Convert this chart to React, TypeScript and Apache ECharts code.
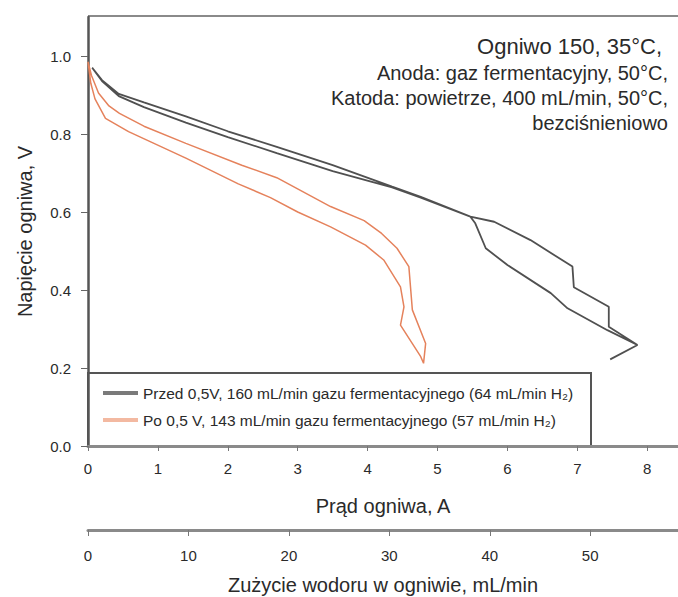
import React, { useEffect, useRef } from "react";
import * as echarts from "echarts";

const FONT = "'Liberation Sans', Arial, Helvetica, sans-serif";

// Axis ranges / ticks
const X_MAX = 8.44; // cell current, A
const H2_PER_A = 6.96; // mL/min of H2 per A (single cell)
const Y_MAX = 1.1;
const xTicks = [0, 1, 2, 3, 4, 5, 6, 7, 8];
const x2Ticks = [0, 10, 20, 30, 40, 50];
const yTicks = [0, 0.2, 0.4, 0.6, 0.8, 1.0];

// Series names
const seriesNames = [
  "Przed 0,5V, 160 mL/min gazu fermentacyjnego (64 mL/min H₂)",
  "Po 0,5 V, 143 mL/min gazu fermentacyjnego (57 mL/min H₂)",
];

// "Przed" (grey) polarization loop: current [A], voltage [V], in drawing order
const greyCurrent = [
  7.47, 7.86, 7.43, 6.86, 6.62, 6.0, 5.69, 5.54, 5.47, 4.76, 4.35, 3.5, 2.7, 2.0,
  1.4, 0.8, 0.44, 0.2, 0.06, 0.2, 0.44, 0.8, 1.4, 2.0, 2.7, 3.5, 4.35, 4.76, 5.47,
  5.81, 6.33, 6.93, 6.95, 7.45, 7.45, 7.86,
];
const greyVoltage = [
  0.222, 0.259, 0.297, 0.353, 0.392, 0.464, 0.507, 0.571, 0.588, 0.637, 0.663,
  0.705, 0.751, 0.792, 0.829, 0.869, 0.897, 0.936, 0.97, 0.938, 0.903, 0.881, 0.845,
  0.807, 0.767, 0.72, 0.665, 0.639, 0.588, 0.575, 0.528, 0.46, 0.407, 0.357,
  0.306, 0.259,
];

// "Po" (orange) polarization loop: current [A], voltage [V], in drawing order
const orangeCurrent = [
  0, 0.05, 0.15, 0.3, 0.45, 0.8, 1.4, 2.2, 2.7, 3.47, 3.95, 4.2, 4.42, 4.59, 4.64,
  4.83, 4.8, 4.76, 4.47, 4.52, 4.47, 4.23, 3.97, 3.47, 3.0, 2.61, 2.15, 1.4, 0.58,
  0.25, 0.1, 0.04, 0,
];
const orangeVoltage = [
  0.985, 0.95, 0.905, 0.872, 0.853, 0.82, 0.776, 0.72, 0.688, 0.614, 0.578, 0.545,
  0.507, 0.46, 0.349, 0.263, 0.212, 0.229, 0.31, 0.357, 0.408, 0.477, 0.515,
  0.562, 0.6, 0.637, 0.672, 0.738, 0.806, 0.84, 0.89, 0.93, 0.985,
];

// Annotation lines
const noteLines = [
  "Ogniwo 150, 35°C,",
  "Anoda: gaz fermentacyjny, 50°C,",
  "Katoda: powietrze, 400 mL/min, 50°C,",
  "bezciśnieniowo",
];

const xTitle = "Prąd ogniwa, A";
const x2Title = "Zużycie wodoru w ogniwie, mL/min";
const yTitle = "Napięcie ogniwa, V";

const zip = (a: number[], b: number[]) => a.map((v, i) => [v, b[i]]);

export default function App() {
  const ref = useRef<HTMLDivElement>(null);

  useEffect(() => {
    if (!ref.current) return;
    const chart = echarts.init(ref.current, undefined, { renderer: "svg" });

    const labelBase = { fontFamily: FONT, color: "#2a2a2a", fontSize: 15 };

    const option: any = {
      animation: false,
      grid: { left: 88, right: 0, top: 17, bottom: 151, containLabel: false, outerBoundsMode: "none" },
      xAxis: [
        {
          type: "value",
          min: 0,
          max: X_MAX,
          position: "bottom",
          axisLine: { show: true, onZero: false, lineStyle: { color: "#8a8a8a", width: 3 } },
          axisTick: { show: true, length: 5, customValues: xTicks, lineStyle: { color: "#777", width: 1 } },
          axisLabel: {
            ...labelBase,
            margin: 15,
            customValues: xTicks,
            formatter: (v: number) => (Math.abs(v - Math.round(v)) < 1e-6 ? String(Math.round(v)) : ""),
          },
          splitLine: { show: false },
          name: xTitle,
          nameLocation: "middle",
          nameGap: 50,
          nameTextStyle: { fontFamily: FONT, fontSize: 20, color: "#2a2a2a" },
        },
        {
          type: "value",
          min: 0,
          max: X_MAX * H2_PER_A,
          position: "bottom",
          offset: 84,
          axisLine: { show: true, onZero: false, lineStyle: { color: "#8a8a8a", width: 3 } },
          axisTick: { show: true, length: 6, customValues: x2Ticks, lineStyle: { color: "#777", width: 1 } },
          axisLabel: {
            ...labelBase,
            margin: 18,
            customValues: x2Ticks,
            formatter: (v: number) => (Math.abs(v / 10 - Math.round(v / 10)) < 1e-6 ? String(Math.round(v)) : ""),
          },
          splitLine: { show: false },
          name: x2Title,
          nameLocation: "middle",
          nameGap: 45,
          nameTextStyle: { fontFamily: FONT, fontSize: 20, color: "#2a2a2a" },
        },
      ],
      yAxis: {
        type: "value",
        min: 0,
        max: Y_MAX,
        axisLine: { show: true, lineStyle: { color: "#555", width: 2.5 } },
        axisTick: { show: true, length: 7, customValues: yTicks, lineStyle: { color: "#666", width: 1 } },
        axisLabel: {
          ...labelBase,
          margin: 17,
          customValues: yTicks,
          formatter: (v: number) => (Math.abs(v * 5 - Math.round(v * 5)) < 1e-6 ? v.toFixed(1) : ""),
        },
        splitLine: { show: false },
        name: yTitle,
        nameLocation: "middle",
        nameGap: 53,
        nameTextStyle: { fontFamily: FONT, fontSize: 20, color: "#2a2a2a" },
      },
      legend: {
        orient: "vertical",
        left: 98,
        top: 379,
        itemWidth: 35,
        itemHeight: 4,
        itemGap: 9,
        selectedMode: false,
        textStyle: { fontFamily: FONT, fontSize: 15.5, color: "#2a2a2a", lineHeight: 18 },
        data: [
          { name: seriesNames[0], icon: "rect", itemStyle: { color: "#7a7a7a" } },
          { name: seriesNames[1], icon: "rect", itemStyle: { color: "#f3b9a1" } },
        ],
      },
      graphic: [
        {
          type: "line",
          shape: { x1: 88, y1: 16, x2: 678, y2: 16 },
          style: { stroke: "#8a8a8a", lineWidth: 2 },
        },
        {
          type: "rect",
          shape: { x: 88, y: 373, width: 503, height: 73 },
          style: { fill: "none", stroke: "#555", lineWidth: 2 },
        },
        {
          type: "text",
          x: 662,
          y: 46,
          style: { text: noteLines[0], align: "right", verticalAlign: "middle", fontFamily: FONT, fontSize: 22, fill: "#2a2a2a" },
        },
        ...noteLines.slice(1).map((t, i) => ({
          type: "text",
          x: 668,
          y: 73 + i * 25,
          style: { text: t, align: "right", verticalAlign: "middle", fontFamily: FONT, fontSize: 20, fill: "#2a2a2a" },
        })),
      ],
      series: [
        {
          type: "line",
          name: seriesNames[0],
          data: zip(greyCurrent, greyVoltage),
          symbol: "none",
          smooth: false,
          lineStyle: { color: "#505050", width: 1.8 },
          itemStyle: { color: "#505050" },
        },
        {
          type: "line",
          name: seriesNames[1],
          data: zip(orangeCurrent, orangeVoltage),
          symbol: "none",
          smooth: false,
          lineStyle: { color: "#e5825c", width: 1.5 },
          itemStyle: { color: "#e5825c" },
        },
      ],
    };

    chart.setOption(option);
    return () => chart.dispose();
  }, []);

  return (
    <div
      ref={ref}
      style={{ position: "fixed", left: 0, top: 0, width: 678, height: 597, background: "#fff" }}
    />
  );
}
